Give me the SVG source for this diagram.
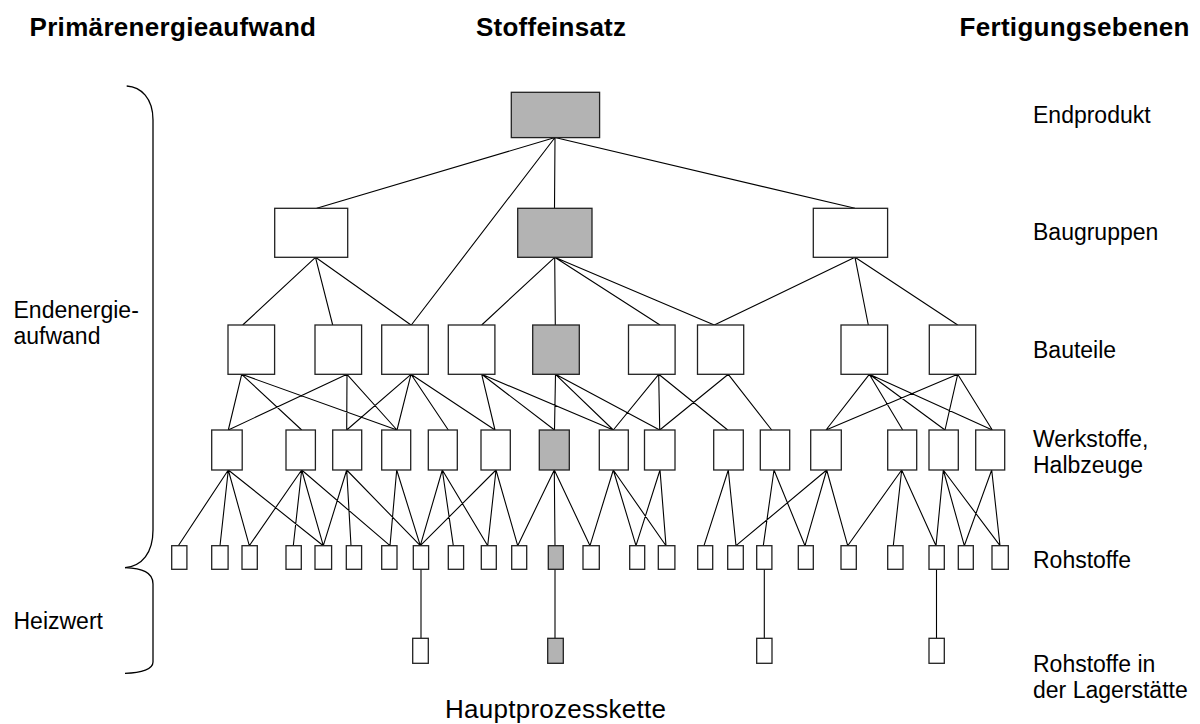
<svg xmlns="http://www.w3.org/2000/svg" width="1200" height="724" viewBox="0 0 1200 724">
  <style>
    .box { fill: #ffffff; stroke: #222222; stroke-width: 1.3; }
    .hl { fill: #b3b3b3; }
    .ln { fill: none; stroke: #000000; stroke-width: 1.1; }
    .brace { fill: none; stroke: #000000; stroke-width: 1.3; }
    .t { font-family: "Liberation Sans", Arial, sans-serif; font-size: 23px; fill: #000000; }
    .h { font-family: "Liberation Sans", Arial, sans-serif; font-size: 26px; font-weight: bold; fill: #000000; }
  </style>

  <rect width="1200" height="724" fill="#ffffff"/>

  <!-- column headings -->
  <g id="headings">
    <text class="h" x="29.5" y="35.5" textLength="286.5" lengthAdjust="spacing">Primärenergieaufwand</text>
    <text class="h" x="476" y="35.5" textLength="150" lengthAdjust="spacing">Stoffeinsatz</text>
    <text class="h" x="959.5" y="35.5" textLength="230" lengthAdjust="spacing">Fertigungsebenen</text>
  </g>

  <!-- braces for the energy terms on the left -->
  <g id="braces">
    <path class="brace" d="M126.7,86 C141,87 153,98 153,120 L153,530 C153,553 142,566 125,567.7"/>
    <path class="brace" d="M125,567.7 C142,568.5 153,572 153,584 L153,662 C153,669 142,673 125,673.3"/>
    <text class="t" x="13.5" y="318">Endenergie-</text>
    <text class="t" x="13.5" y="344">aufwand</text>
    <text class="t" x="13.5" y="629">Heizwert</text>
  </g>

  <!-- level labels on the right -->
  <g id="levels">
    <text class="t" x="1033" y="123">Endprodukt</text>
    <text class="t" x="1033" y="240">Baugruppen</text>
    <text class="t" x="1033" y="358">Bauteile</text>
    <text class="t" x="1033" y="447">Werkstoffe,</text>
    <text class="t" x="1033" y="473">Halbzeuge</text>
    <text class="t" x="1033" y="568">Rohstoffe</text>
    <text class="t" x="1033" y="672">Rohstoffe in</text>
    <text class="t" x="1033" y="698">der Lagerstätte</text>
  </g>

  <text id="chain-label" class="t" x="445" y="718" style="font-size:26px" textLength="221" lengthAdjust="spacing">Hauptprozesskette</text>

  <!-- connectors -->
  <g id="connectors">
    <path class="ln" d="M555,137.5 L316.7,208.3 M555,137.5 L554.5,208.3 M555,137.5 L855,208.3 M555,137.5 L411.3,325"/>
    <path class="ln" d="M315.5,257.3 L242.7,325 M315.5,257.3 L332.7,325 M315.5,257.3 L411,325
      M554.7,257.3 L481.7,325 M554.7,257.3 L555.3,325 M554.7,257.3 L660,325 M554.7,257.3 L714.3,325
      M855,257.3 L714.3,325 M855,257.3 L868.3,325 M855,257.3 L957.7,325"/>
    <path class="ln" d="
      M241.7,374.3 L228.3,430 M241.7,374.3 L301.7,430 M241.7,374.3 L397,430
      M347,374.3 L228.3,430 M347,374.3 L346.7,430 M347,374.3 L397,430
      M411,374.3 L346.7,430 M411,374.3 L397,430 M411,374.3 L448.3,430 M411,374.3 L495,430
      M481.7,374.3 L495,430 M481.7,374.3 L554.5,430 M481.7,374.3 L613.3,430
      M555.5,374.3 L554.5,430 M555.5,374.3 L613.3,430 M555.5,374.3 L659.7,430
      M658.7,374.3 L613.3,430 M658.7,374.3 L659.7,430 M658.7,374.3 L727.7,430
      M728.3,374.3 L659.7,430 M728.3,374.3 L771.7,430
      M869.3,374.3 L826,430 M869.3,374.3 L902.7,430 M869.3,374.3 L945,430 M869.3,374.3 L992.3,430
      M957.7,374.3 L826,430 M957.7,374.3 L945,430 M957.7,374.3 L992.3,430"/>
    <path class="ln" d="
      M228.3,470 L178.3,545.7 M228.3,470 L220,545.7 M228.3,470 L249.3,545.7 M228.3,470 L323.3,545.7
      M301.7,470 L249.3,545.7 M301.7,470 L293.3,545.7 M301.7,470 L323.3,545.7 M301.7,470 L390,545.7
      M346.7,470 L323.3,545.7 M346.7,470 L351,545.7 M346.7,470 L420.3,545.7
      M396.7,470 L390,545.7 M396.7,470 L420.3,545.7
      M442.3,470 L420.3,545.7 M442.3,470 L453.3,545.7 M442.3,470 L487.7,545.7
      M496,470 L420.3,545.7 M496,470 L487.7,545.7 M496,470 L517.7,545.7
      M554.3,470 L517.7,545.7 M554.3,470 L555,545.7 M554.3,470 L590,545.7
      M613.3,470 L590,545.7 M613.3,470 L636,545.7 M613.3,470 L666,545.7
      M660,470 L636,545.7 M660,470 L666,545.7
      M728.3,470 L704,545.7 M728.3,470 L736,545.7
      M774,470 L763.3,545.7 M774,470 L805,545.7
      M826.7,470 L736,545.7 M826.7,470 L805,545.7 M826.7,470 L847.7,545.7
      M901.7,470 L847.7,545.7 M901.7,470 L893.3,545.7 M901.7,470 L936,545.7
      M943.3,470 L936,545.7 M943.3,470 L964.3,545.7 M943.3,470 L1000,545.7
      M991.7,470 L964.3,545.7 M991.7,470 L1000,545.7"/>
    <path class="ln" d="M421,569.3 L421,638.3 M555,569.3 L555,638.3 M764.3,569.3 L764.3,638.3 M936.5,569.3 L936.5,638.3"/>
  </g>

  <!-- Endprodukt -->
  <g id="n-end"><rect class="box hl" x="511.3" y="92.3" width="88.3" height="45.3"/></g>

  <!-- Baugruppen -->
  <g id="n-bg1"><rect class="box" x="274.7" y="208.3" width="73" height="49"/></g>
  <g id="n-bg2"><rect class="box hl" x="517.7" y="208.3" width="74.3" height="49"/></g>
  <g id="n-bg3"><rect class="box" x="813.3" y="208.3" width="74.3" height="49"/></g>

  <!-- Bauteile -->
  <g id="n-bt1"><rect class="box" x="228" y="325" width="46.6" height="49.3"/></g>
  <g id="n-bt2"><rect class="box" x="315" y="325" width="46.6" height="49.3"/></g>
  <g id="n-bt3"><rect class="box" x="381.7" y="325" width="46.6" height="49.3"/></g>
  <g id="n-bt4"><rect class="box" x="448.3" y="325" width="46.6" height="49.3"/></g>
  <g id="n-bt5"><rect class="box hl" x="532.7" y="325" width="46.6" height="49.3"/></g>
  <g id="n-bt6"><rect class="box" x="628.5" y="325" width="46.6" height="49.3"/></g>
  <g id="n-bt7"><rect class="box" x="697.5" y="325" width="46.2" height="49.3"/></g>
  <g id="n-bt8"><rect class="box" x="841" y="325" width="46.6" height="49.3"/></g>
  <g id="n-bt9"><rect class="box" x="929.3" y="325" width="46.4" height="49.3"/></g>

  <!-- Werkstoffe, Halbzeuge -->
  <g id="n-ws1"><rect class="box" x="211.7" y="430" width="30.5" height="40"/></g>
  <g id="n-ws2"><rect class="box" x="286" y="430" width="29.4" height="40"/></g>
  <g id="n-ws3"><rect class="box" x="332.7" y="430" width="29" height="40"/></g>
  <g id="n-ws4"><rect class="box" x="381.7" y="430" width="29" height="40"/></g>
  <g id="n-ws5"><rect class="box" x="428.3" y="430" width="29" height="40"/></g>
  <g id="n-ws6"><rect class="box" x="481" y="430" width="29.3" height="40"/></g>
  <g id="n-ws7"><rect class="box hl" x="539.3" y="430" width="30" height="40"/></g>
  <g id="n-ws8"><rect class="box" x="599.3" y="430" width="29" height="40"/></g>
  <g id="n-ws9"><rect class="box" x="644.5" y="430" width="30.5" height="40"/></g>
  <g id="n-ws10"><rect class="box" x="713.7" y="430" width="29.6" height="40"/></g>
  <g id="n-ws11"><rect class="box" x="760.3" y="430" width="29.4" height="40"/></g>
  <g id="n-ws12"><rect class="box" x="810.7" y="430" width="30.6" height="40"/></g>
  <g id="n-ws13"><rect class="box" x="887.7" y="430" width="29" height="40"/></g>
  <g id="n-ws14"><rect class="box" x="929" y="430" width="29.3" height="40"/></g>
  <g id="n-ws15"><rect class="box" x="975.7" y="430" width="29" height="40"/></g>

  <!-- Rohstoffe -->
  <g id="n-rs1"><rect class="box" x="171.7" y="545.7" width="15.2" height="23.6"/></g>
  <g id="n-rs2"><rect class="box" x="211.7" y="545.7" width="16.4" height="23.6"/></g>
  <g id="n-rs3"><rect class="box" x="242" y="545.7" width="15.3" height="23.6"/></g>
  <g id="n-rs4"><rect class="box" x="286" y="545.7" width="15.3" height="23.6"/></g>
  <g id="n-rs5"><rect class="box" x="315" y="545.7" width="16.6" height="23.6"/></g>
  <g id="n-rs6"><rect class="box" x="346.3" y="545.7" width="15.3" height="23.6"/></g>
  <g id="n-rs7"><rect class="box" x="381.7" y="545.7" width="15.3" height="23.6"/></g>
  <g id="n-rs8"><rect class="box" x="413.3" y="545.7" width="15.3" height="23.6"/></g>
  <g id="n-rs9"><rect class="box" x="448.3" y="545.7" width="15.3" height="23.6"/></g>
  <g id="n-rs10"><rect class="box" x="481.3" y="545.7" width="15" height="23.6"/></g>
  <g id="n-rs11"><rect class="box" x="511.7" y="545.7" width="15" height="23.6"/></g>
  <g id="n-rs12"><rect class="box hl" x="548.3" y="545.7" width="15" height="23.6"/></g>
  <g id="n-rs13"><rect class="box" x="583" y="545.7" width="16.3" height="23.6"/></g>
  <g id="n-rs14"><rect class="box" x="629.7" y="545.7" width="15" height="23.6"/></g>
  <g id="n-rs15"><rect class="box" x="658.3" y="545.7" width="16.6" height="23.6"/></g>
  <g id="n-rs16"><rect class="box" x="697.7" y="545.7" width="15" height="23.6"/></g>
  <g id="n-rs17"><rect class="box" x="727.7" y="545.7" width="15.6" height="23.6"/></g>
  <g id="n-rs18"><rect class="box" x="756.7" y="545.7" width="15.2" height="23.6"/></g>
  <g id="n-rs19"><rect class="box" x="798.3" y="545.7" width="15" height="23.6"/></g>
  <g id="n-rs20"><rect class="box" x="841" y="545.7" width="15.3" height="23.6"/></g>
  <g id="n-rs21"><rect class="box" x="887.7" y="545.7" width="15.3" height="23.6"/></g>
  <g id="n-rs22"><rect class="box" x="929" y="545.7" width="15.3" height="23.6"/></g>
  <g id="n-rs23"><rect class="box" x="958.3" y="545.7" width="15" height="23.6"/></g>
  <g id="n-rs24"><rect class="box" x="992" y="545.7" width="16.3" height="23.6"/></g>

  <!-- Rohstoffe in der Lagerstätte -->
  <g id="n-ls1"><rect class="box" x="412.7" y="638.3" width="15.6" height="25"/></g>
  <g id="n-ls2"><rect class="box hl" x="547.7" y="638.3" width="15.6" height="25"/></g>
  <g id="n-ls3"><rect class="box" x="756.7" y="638.3" width="15.3" height="25"/></g>
  <g id="n-ls4"><rect class="box" x="929" y="638.3" width="15.3" height="25"/></g>
</svg>
